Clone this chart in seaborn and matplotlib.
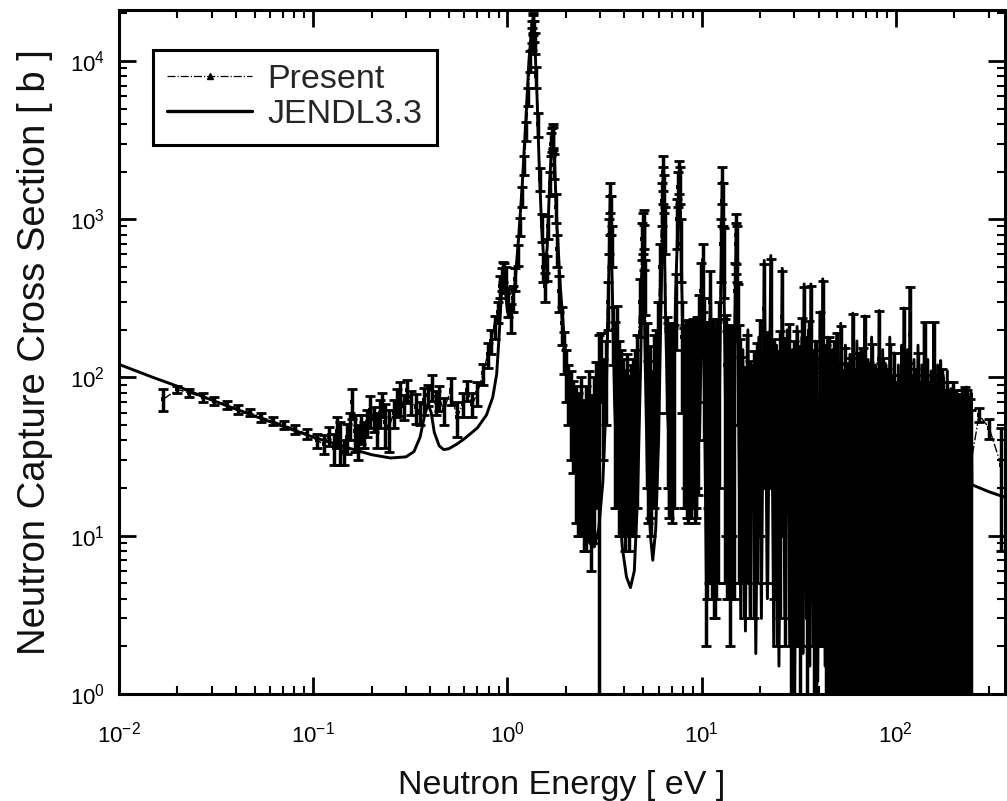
import numpy as np
import pandas as pd
import matplotlib
matplotlib.use("Agg")
import matplotlib.pyplot as plt
import seaborn as sns
from matplotlib.lines import Line2D
from matplotlib.ticker import LogLocator, FixedLocator, NullFormatter

sns.set_theme(style="ticks")
plt.rcParams['font.family'] = ['Liberation Sans', 'DejaVu Sans']
plt.rcParams['mathtext.fontset'] = 'custom'
plt.rcParams['mathtext.rm'] = 'Liberation Sans'
plt.rcParams['mathtext.it'] = 'Liberation Sans:italic'
plt.rcParams['mathtext.bf'] = 'Liberation Sans:bold'

# ---------------- data ----------------
# JENDL3.3 evaluated capture cross section [b] vs energy [eV]
e_jendl = [
    0.01, 0.015, 0.02, 0.03, 0.05, 0.07, 0.1, 0.15, 0.2, 0.25, 0.3, 0.33, 0.355, 0.375,
    0.39, 0.405, 0.42, 0.445, 0.47, 0.5, 0.55, 0.6, 0.7, 0.78, 0.84, 0.88, 0.91, 0.94,
    0.97, 1.0, 1.04, 1.09, 1.14, 1.19, 1.24, 1.29, 1.34, 1.38, 1.42, 1.46, 1.5, 1.55,
    1.6, 1.65, 1.7, 1.75, 1.8, 1.87, 1.95, 2.05, 2.2, 2.35, 2.5, 2.65, 2.8, 2.95, 3.1,
    3.22, 3.32, 3.39, 3.46, 3.56, 3.7, 3.9, 4.1, 4.3, 4.5, 4.68, 4.85, 5.0, 5.1, 5.25,
    5.45, 5.6, 5.8, 6.0, 6.18, 6.36, 6.5, 6.7, 6.9, 7.1, 7.35, 7.7, 7.95, 8.15, 8.35,
    8.55, 8.75, 8.95, 9.15, 9.35, 9.55, 9.75, 10.1, 10.35, 10.6, 10.85, 11.1, 11.4,
    11.7, 11.95, 12.2, 12.5, 12.8, 13.1, 13.4, 13.7, 14.0, 14.3, 14.6, 15.1, 15.5, 15.9,
    16.3, 16.8, 17.3, 17.8, 18.4, 19.0, 19.7, 20.3, 21.0, 21.8, 22.7, 23.5, 24.3, 25.0,
    26.0, 26.8, 27.6, 28.4, 29.3, 30.1, 31.0, 31.9, 32.8, 33.2, 33.7, 34.6, 35.5, 36.0,
    36.5, 37.5, 38.6, 39.6, 40.7, 41.3, 42.0, 43.2, 44.5, 45.6, 47.0, 48.3, 49.6, 50.8,
    52.0, 53.5, 55.0, 56.5, 58.0, 59.0, 60.0, 61.5, 63.0, 64.5, 66.0, 67.5, 69.0, 70.5,
    72.0, 73.5, 75.0, 76.5, 78.5, 80.2, 82.0, 83.8, 85.5, 87.3, 89.0, 91.0, 93.0, 95.0,
    98.0, 100.5, 103.0, 105.5, 107.0, 108.5, 110.0, 113.0, 115.0, 116.5, 118.0, 121.0,
    124.0, 127.0, 130.0, 133.0, 136.0, 138.0, 140.0, 143.0, 146.0, 149.0, 152.0, 154.5,
    157.0, 160.0, 164.0, 167.0, 170.0, 173.0, 176.0, 180.0, 184.0, 188.0, 192.0, 195.0,
    198.0, 202.0, 206.0, 210.0, 214.0, 218.0, 222.0, 226.0, 231.0, 234.5, 238.0, 241.0,
    244.0, 246.5, 300.0, 365.0]
xs_jendl = [
    121, 100, 88, 72, 57, 49, 42, 36, 32.5, 31, 31.5, 34, 42, 58,
    68, 60, 45, 37, 35, 35.5, 38, 41, 48, 58, 75, 105, 200, 430,
    380, 260, 240, 380, 750, 1600, 4000, 10000, 18000, 14000, 6000, 2000, 900, 480,
    650, 1700, 3500, 2200, 900, 380, 190, 100, 50, 26, 14, 9, 8.5, 11, 22,
    70, 400, 1450, 400, 70, 20, 8.5, 5.5, 4.7, 6, 18, 120, 900, 160, 25,
    10, 7, 11, 40, 300, 2090, 280, 55, 26, 45, 350, 2140, 260, 60, 210,
    30, 18, 190, 25, 16, 220, 40, 560, 60, 4, 40, 370, 25,
    5, 180, 25, 250, 1880, 240, 25, 4, 160, 20, 60, 910, 60, 3,
    150, 2.5, 200, 3, 120, 1.8, 180, 3, 550, 4, 590, 2, 160, 1.5,
    490, 3, 200, 2, 150, 1.2, 210, 2.5, 180, 1.8, 390, 3, 200, 1.5,
    390, 2, 170, 1.2, 260, 2, 420, 1.5, 180, 1, 150, 0.8, 190, 1.1,
    220, 0.6, 160, 0.9, 140, 0.5, 255, 0.7, 170, 0.4, 150, 0.8, 245, 0.5,
    130, 0.3, 180, 0.6, 120, 0.3, 265, 0.5, 150, 0.3, 120, 0.4, 180, 0.3,
    143, 0.4, 120, 0.2, 160, 0.3, 275, 0.4, 150, 0.3, 370, 0.2,
    130, 0.3, 160, 0.2, 120, 0.3, 220, 0.2, 130, 0.3, 110, 0.2,
    220, 0.3, 120, 0.2, 128, 0.3, 100, 0.2, 110, 0.3, 85, 0.2,
    92, 0.3, 80, 0.2, 75, 0.3, 85, 0.2, 87, 0.3, 75, 0.2,
    80, 21, 19, 17.5]

# Present measurement: energy [eV], cross section [b], uncertainty [b]
e_pres = [
    0.0169, 0.020, 0.023, 0.027, 0.031, 0.036, 0.041, 0.047, 0.054, 0.062, 0.071, 0.081, 0.093,
    0.105, 0.113, 0.121, 0.128, 0.133, 0.138, 0.144, 0.150, 0.155, 0.159, 0.165, 0.170, 0.176,
    0.182, 0.190, 0.197, 0.205, 0.213, 0.220, 0.227, 0.235, 0.245, 0.260, 0.270, 0.280, 0.293,
    0.305, 0.320, 0.340, 0.355, 0.370, 0.390, 0.410, 0.430, 0.445, 0.470, 0.510, 0.550, 0.590,
    0.620, 0.660, 0.700,
    0.750, 0.790, 0.820, 0.860, 0.890, 0.920, 0.950, 0.980, 1.010, 1.040, 1.070, 1.100, 1.130,
    1.160, 1.190, 1.220, 1.250, 1.280, 1.310, 1.340, 1.360, 1.380, 1.410, 1.440, 1.470, 1.500,
    1.530, 1.560, 1.590, 1.620, 1.650, 1.680, 1.710, 1.740, 1.770, 1.800, 1.850, 1.900, 1.950,
    2.000, 2.060, 2.120, 2.180, 2.250, 2.320, 2.400, 2.470, 2.540, 2.620, 2.700, 2.780, 2.860,
    2.950, 3.030, 3.120, 3.200, 3.280, 3.340, 3.390, 3.440, 3.500, 3.580, 3.660, 3.750, 3.850,
    3.950, 4.050, 4.150, 4.250, 4.350, 4.450, 4.550, 4.650, 4.800, 4.950, 5.020, 5.100, 5.200,
    5.300, 5.400, 5.500, 5.650, 5.800, 5.950, 6.100, 6.250, 6.360, 6.450, 6.600, 6.750, 6.900,
    7.050, 7.200, 7.350, 7.500, 7.650, 7.800, 7.950, 8.100, 8.300, 8.500, 8.700, 8.900, 9.100,
    9.300, 9.500, 9.700, 9.900, 10.10, 10.30, 10.50, 10.80, 11.10, 11.40, 11.70, 12.00, 12.30,
    12.60, 12.80, 13.00, 13.30, 13.60, 14.00, 14.40, 14.80, 15.10, 15.40, 15.80,
    16.0, 16.6, 17.2, 17.8, 18.5, 19.2, 20.0, 21.0, 21.8, 22.7, 23.6, 24.5, 25.3, 26.0, 27.0,
    28.0, 29.0, 30.0, 31.0, 32.0, 33.0, 33.7, 34.8, 35.8, 36.5, 37.7, 39.0, 40.5, 42.0, 43.5,
    45.0, 46.5, 48.0, 49.5, 51.0, 52.0, 53.5, 55.0, 57.0, 59.0, 60.0, 62.0, 64.0, 66.0, 68.0,
    69.5, 71.0, 73.0, 75.0, 77.0, 79.0, 82.0, 84.0, 86.0, 88.0, 90.0, 93.0, 96.0, 98.0, 101.0,
    104.0, 107.0, 110.0, 113.0, 116.0, 118.0, 122.0, 126.0, 130.0, 134.0, 138.0, 141.0, 145.0,
    150.0, 157.0, 162.0, 167.0, 172.0, 177.0, 183.0, 190.0, 196.0, 203.0, 210.0, 218.0, 226.0,
    233.0, 240.0, 245.0, 268.0, 302.0, 348.0]
xs_pres = [
    73, 84, 80, 75, 71, 67, 63, 60, 56, 53, 50, 47, 44,
    40, 38, 43, 36, 46, 40, 34, 42, 50, 70, 46, 40, 48,
    44, 52, 62, 55, 48, 60, 68, 52, 48, 60, 70, 75, 66,
    83, 70, 65, 60, 72, 78, 87, 70, 75, 62, 83, 56, 68,
    83, 68, 80,
    106, 140, 170, 210, 260, 380, 470, 420, 300, 240, 320, 420, 600,
    900, 1400, 2200, 3600, 6000, 10000, 15500, 17000, 13000, 8000, 4000, 1800, 900,
    500, 380, 500, 900, 1700, 3000, 3400, 2200, 1200, 650, 350, 220, 150,
    110, 85, 70, 60, 50, 45, 55, 40, 48, 60, 42, 55, 70,
    90, 130, 80, 110, 300, 800, 1400, 700, 200, 120, 150, 90, 80,
    70, 60, 75, 55, 65, 70, 80, 100, 300, 750, 900, 400, 120,
    70, 85, 60, 100, 110, 180, 500, 1300, 2000, 900, 150, 110, 120,
    100, 115, 300, 1000, 1900, 700, 180, 110, 125, 100, 120, 110, 125,
    105, 130, 200, 350, 480, 180, 110, 120, 300, 120, 100, 115, 160,
    700, 1700, 600, 130, 100, 90, 110, 350, 800, 220, 90,
    70, 60, 95, 65, 75, 85, 120, 270, 100, 290, 90, 75, 100, 240, 90,
    110, 75, 85, 100, 80, 120, 190, 90, 115, 190, 75, 85, 130, 205, 80,
    90, 70, 85, 95, 60, 105, 55, 75, 60, 65, 125, 55, 70, 60, 75,
    120, 50, 60, 80, 50, 55, 130, 60, 65, 50, 55, 80, 50, 70, 45,
    50, 70, 135, 55, 60, 185, 50, 55, 70, 45, 50, 110, 50,
    45, 110, 45, 50, 55, 40, 45, 40, 45, 40, 38, 40, 42,
    40, 35, 30, 58, 48, 28]
err_pres = [
    12, 4, 5, 5, 4, 4, 4, 3, 4, 3, 3, 3, 3,
    4, 5, 6, 8, 10, 12, 6, 9, 10, 15, 12, 10, 10,
    8, 10, 14, 10, 12, 12, 12, 16, 14, 12, 14, 18, 12,
    14, 12, 14, 10, 14, 12, 16, 12, 14, 12, 16, 14, 12,
    12, 12, 14,
    16, 25, 30, 35, 40, 60, 70, 80, 60, 50, 60, 70, 90,
    120, 200, 300, 500, 800, 1500, 2500, 2500, 2000, 1200, 700, 300, 180,
    100, 80, 90, 150, 300, 500, 600, 400, 250, 150, 90, 60, 45,
    40, 35, 40, 35, 38, 35, 45, 32, 40, 50, 36, 46, 55,
    95, 60, 50, 60, 100, 200, 300, 200, 80, 105, 135, 80, 70,
    60, 52, 65, 47, 55, 60, 70, 85, 120, 200, 250, 150, 100,
    58, 72, 50, 85, 90, 120, 200, 400, 500, 300, 90, 95, 100,
    88, 100, 150, 350, 450, 300, 120, 95, 105, 88, 100, 95, 105,
    92, 110, 130, 180, 220, 140, 108, 105, 170, 115, 97, 110, 140,
    300, 450, 280, 120, 95, 88, 100, 180, 280, 170, 85,
    65, 57, 90, 62, 72, 80, 110, 250, 95, 270, 86, 73, 97, 230, 88,
    107, 74, 84, 98, 79, 118, 185, 89, 113, 186, 74.5, 84.5, 128, 203, 80,
    90, 70, 85, 95, 62, 107, 57, 78, 63, 68, 128, 58, 73, 63, 78,
    123, 53, 63, 83, 53, 58, 133, 63, 68, 53, 58, 83, 53, 73, 48,
    53, 73, 138, 58, 63, 188, 53, 58, 73, 48, 53, 113, 53,
    48, 113, 48, 53, 58, 43, 48, 43, 48, 43, 41, 43, 45,
    43, 38, 32, 6, 7, 20]

# additional present points read in the resonance peaks and the 6-16 eV band
e_pres_extra = [
    0.935, 0.965, 1.33, 1.35, 1.37, 1.69, 1.72, 3.36, 3.42, 4.98, 5.06, 6.30, 6.41,
    6.675, 6.825, 6.975, 7.125, 7.58, 7.72, 8.2, 8.4, 8.6, 8.8, 9.0, 9.2, 9.4, 9.6,
    10.65, 10.95, 11.25, 11.55, 11.85, 12.15, 12.7, 12.9, 13.15, 13.45, 13.8, 14.2,
    14.6, 15.0, 15.2, 15.6]
xs_pres_extra = [
    420, 450, 14000, 17500, 15500, 3200, 3300, 1100, 1100, 850, 700, 1700, 1500,
    120, 105, 115, 110, 1600, 1700, 115, 105, 120, 110, 125, 100, 120, 130,
    100, 115, 110, 95, 105, 120, 1300, 1300, 120, 100, 110, 95,
    105, 700, 650, 110]
err_pres_extra = [
    70, 80, 2200, 2500, 2300, 550, 550, 300, 300, 250, 220, 450, 400,
    100, 92, 100, 95, 400, 450, 100, 92, 105, 97, 110, 88, 105, 112,
    96, 110, 106, 92, 101, 115, 400, 400, 115, 96, 106, 91,
    101, 250, 250, 105]

x_ticks = [1e-2, 1e-1, 1e0, 1e1, 1e2]
x_tick_labels = [r'$10^{-2}$', r'$10^{-1}$', r'$10^{0}$', r'$10^{1}$', r'$10^{2}$']
y_ticks = [1e0, 1e1, 1e2, 1e3, 1e4]
y_tick_labels = [r'$10^{0}$', r'$10^{1}$', r'$10^{2}$', r'$10^{3}$', r'$10^{4}$']

# ---------------- plot ----------------
fig = plt.figure(figsize=(10.07, 8.01), dpi=100)
ax = fig.add_axes([0.1182, 0.1336, 0.8799, 0.8539])
ax.set_xscale('log')
ax.set_yscale('log')

df_p = pd.DataFrame({'E': e_pres + e_pres_extra,
                     'xs': xs_pres + xs_pres_extra,
                     'err': err_pres + err_pres_extra}).sort_values('E')
err_lo = np.minimum(df_p['err'].to_numpy(float), df_p['xs'].to_numpy(float) - 1e-3)
ax.errorbar(df_p['E'], df_p['xs'], yerr=[err_lo, df_p['err'].to_numpy(float)], fmt='none',
            ecolor='black', elinewidth=2.5, capsize=3.8, capthick=2.0, zorder=2)

sns.lineplot(data=df_p, x='E', y='xs', ax=ax, color='black', lw=1.0, linestyle='-.',
             marker='s', markersize=3.5, markeredgewidth=0, estimator=None, sort=True,
             legend=False, zorder=3)

df_j = pd.DataFrame({'E': e_jendl, 'xs': xs_jendl})
sns.lineplot(data=df_j, x='E', y='xs', ax=ax, color='black', lw=2.1,
             estimator=None, sort=False, legend=False, zorder=4)

ax.set_xlim(0.01, 365)
ax.set_ylim(1, 2.1e4)

ax.xaxis.set_major_locator(FixedLocator(x_ticks))
ax.xaxis.set_minor_locator(LogLocator(base=10, subs=np.arange(2, 10), numticks=30))
ax.xaxis.set_minor_formatter(NullFormatter())
ax.set_xticklabels(x_tick_labels)
ax.yaxis.set_major_locator(FixedLocator(y_ticks))
ax.yaxis.set_minor_locator(LogLocator(base=10, subs=np.arange(2, 10), numticks=30))
ax.yaxis.set_minor_formatter(NullFormatter())
ax.set_yticklabels(y_tick_labels)

ax.tick_params(which='both', direction='in', top=True, right=True, colors='black')
ax.tick_params(which='major', length=12, width=2, labelsize=16)
ax.tick_params(which='minor', length=6, width=1.5)
ax.tick_params(axis='x', which='major', pad=20)
ax.tick_params(axis='y', which='major', pad=10)
for sp in ax.spines.values():
    sp.set_linewidth(2.2)
    sp.set_color('black')

ax.set_xlabel('Neutron Energy [ eV ]', fontsize=24.5, labelpad=16, color='#111111')
ax.set_ylabel('Neutron Capture Cross Section [ b ]', fontsize=27.5, labelpad=12, color='#111111')

handles = [Line2D([], [], color='black', lw=0.9, ls='-.', marker='^', markersize=4),
           Line2D([], [], color='black', lw=2.4)]
leg = ax.legend(handles, ['Present', 'JENDL3.3'], loc='upper left',
                bbox_to_anchor=(0.0384, 0.9415), borderaxespad=0, fontsize=24.5,
                frameon=True, fancybox=False, edgecolor='black', framealpha=1,
                handlelength=2.5, handletextpad=0.45, borderpad=0.42, labelspacing=0.12)
leg.get_frame().set_linewidth(2.2)

fig.savefig('out.png', dpi=100)
